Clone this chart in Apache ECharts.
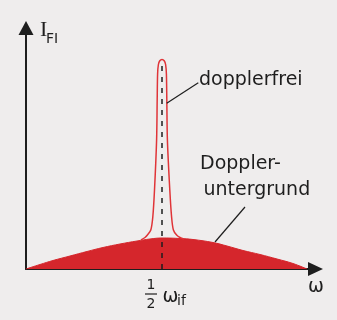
<!DOCTYPE html>
<html>
<head>
<meta charset="utf-8">
<script src="https://cdn.jsdelivr.net/npm/echarts@6/dist/echarts.min.js"></script>
<style>
    html, body {margin: 0; padding: 0; background: #efeded;}
    #main {width: 337px; height: 320px;}
</style>
</head>
<body>
<div id="main"></div>
<script>
// broad doppler background (x relative to line centre, height)
var broad_x = [-136, -122, -109, -92, -75, -59, -42, -25, -12, 0, 18, 31, 51, 65, 81, 98, 115, 131, 145];
var broad_y = [0, 4.5, 8.5, 13, 17.5, 21.5, 25, 28, 30, 31, 30.5, 29.5, 26.5, 23, 18.5, 14.5, 10, 5.5, 0];

// narrow doppler-free peak outline
var peak_x = [-21, -17, -14.6, -11.2, -9.2, -7.5, -5.4, -4.8, -4.4, -3.6, -2.2, 0, 2.2, 3.6, 4.4, 4.8, 5.4, 7.8, 9.6, 11.4, 14.6, 18, 22];
var peak_y = [29, 31.5, 34, 39, 52, 79, 129, 170, 195, 204.5, 208.3, 209.5, 208.3, 204.5, 195, 170, 129, 79, 52, 39, 34, 31.5, 30];

var center_x = 0;
var dash_top = 205;
var frei_line = [[4.7, 165.7], [36.3, 186.3]];
var grund_line = [[53, 27], [83, 62]];

var red = '#d5262c';
var ink = '#1e1e1e';
var sans = '"DejaVu Sans", sans-serif';

function pairs(xs, ys) {
    var out = [];
    for (var i = 0; i < xs.length; i++) {
        out.push([xs[i], ys[i]]);
    }
    return out;
}

var myChart = echarts.init(document.getElementById('main'));

var option = {
    animation: false,
    backgroundColor: '#efeded',
    grid: {left: 26, right: 21.5, top: 28, bottom: 51},
    xAxis: {
        type: 'value',
        min: -136,
        max: 153.5,
        axisLine: {
            onZero: false,
            lineStyle: {color: ink, width: 2},
            symbol: ['none', 'triangle'],
            symbolSize: [14, 15]
        },
        axisTick: {show: false},
        axisLabel: {show: false},
        splitLine: {show: false}
    },
    yAxis: {
        type: 'value',
        min: 0,
        max: 241,
        axisLine: {
            show: true,
            onZero: false,
            lineStyle: {color: ink, width: 2},
            symbol: ['none', 'triangle'],
            symbolSize: [15, 14]
        },
        axisTick: {show: false},
        axisLabel: {show: false},
        splitLine: {show: false}
    },
    series: [
        {
            name: 'Doppler-untergrund',
            type: 'line',
            smooth: 0.4,
            symbol: 'none',
            lineStyle: {color: red, width: 1},
            areaStyle: {color: red, opacity: 1},
            data: pairs(broad_x, broad_y),
            z: 2
        },
        {
            name: 'dopplerfrei',
            type: 'line',
            smooth: 0.3,
            symbol: 'none',
            lineStyle: {color: '#e03438', width: 1.5},
            data: pairs(peak_x, peak_y),
            z: 3,
            markLine: {
                silent: true,
                symbol: 'none',
                label: {show: false},
                data: [
                    [
                        {coord: [center_x, 0], lineStyle: {color: ink, width: 1.5, type: [5, 6]}},
                        {coord: [center_x, dash_top]}
                    ],
                    [
                        {coord: frei_line[0], lineStyle: {color: ink, width: 1.2, type: 'solid'}},
                        {coord: frei_line[1]}
                    ],
                    [
                        {coord: grund_line[0], lineStyle: {color: ink, width: 1.2, type: 'solid'}},
                        {coord: grund_line[1]}
                    ]
                ]
            }
        }
    ],
    graphic: [
        {type: 'text', x: 40, y: 30.6, style: {text: 'I', font: '22px "Liberation Serif", serif', fill: ink, textVerticalAlign: 'middle'}},
        {type: 'text', x: 46, y: 39, style: {text: 'FI', font: '14px ' + sans, fill: ink, textVerticalAlign: 'middle'}},
        {type: 'text', x: 199, y: 80, style: {text: 'dopplerfrei', font: '19px ' + sans, fill: ink, textVerticalAlign: 'middle'}},
        {type: 'text', x: 200, y: 163.7, style: {text: 'Doppler-', font: '19px ' + sans, fill: ink, textVerticalAlign: 'middle'}},
        {type: 'text', x: 203.5, y: 190.4, style: {text: 'untergrund', font: '19px ' + sans, fill: ink, textVerticalAlign: 'middle'}},
        {type: 'text', x: 316, y: 287.5, style: {text: 'ω', font: '19px ' + sans, fill: ink, textAlign: 'center', textVerticalAlign: 'middle'}},
        {type: 'text', x: 151, y: 285.5, style: {text: '1', font: '14px ' + sans, fill: ink, textAlign: 'center', textVerticalAlign: 'middle'}},
        {type: 'line', shape: {x1: 145, y1: 294, x2: 157, y2: 294}, style: {stroke: ink, lineWidth: 1.2}},
        {type: 'text', x: 151, y: 304.5, style: {text: '2', font: '14px ' + sans, fill: ink, textAlign: 'center', textVerticalAlign: 'middle'}},
        {type: 'text', x: 162.5, y: 297, style: {text: 'ω', font: '19px ' + sans, fill: ink, textVerticalAlign: 'middle'}},
        {type: 'text', x: 177, y: 301.5, style: {text: 'if', font: '14px ' + sans, fill: ink, textVerticalAlign: 'middle'}}
    ]
};

myChart.setOption(option);
</script>
</body>
</html>
